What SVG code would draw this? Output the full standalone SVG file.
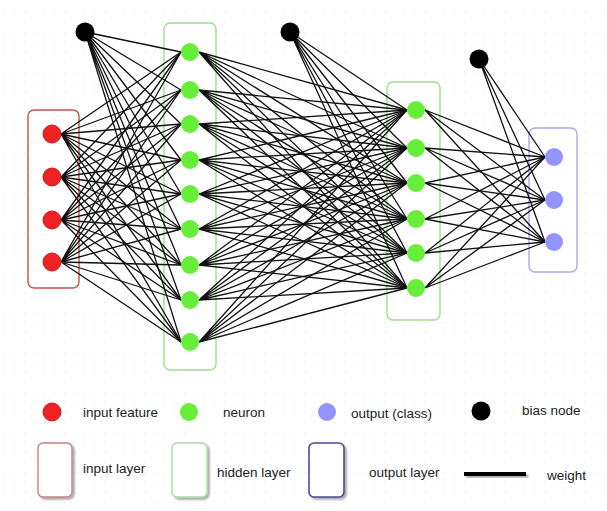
<svg xmlns="http://www.w3.org/2000/svg" width="607" height="511" viewBox="0 0 607 511">
<style>
.lbl{font-family:"Liberation Sans",Arial,sans-serif;font-size:13.5px;fill:#222}
.in{fill:#ee2222;stroke:#cc1a1a;stroke-width:1}
.hid{fill:#66ee3a}
.out{fill:#9494ff}
.bias{fill:#000}
.w{fill:none;stroke:#111;stroke-width:1.3}
.boxIn{fill:#fff;stroke:#c85050;stroke-width:1.4}
.boxHid{fill:#fff;stroke:#9ee08e;stroke-width:1.4}
.boxOut{fill:#fff;stroke:#aaaaea;stroke-width:1.4}
</style>
<defs>
<pattern id="dots" x="0" y="8" width="10" height="10" patternUnits="userSpaceOnUse">
<rect x="4" y="4" width="1" height="1" fill="#e2e2e2"/>
</pattern>
<filter id="sh" x="-30%" y="-30%" width="160%" height="160%">
<feGaussianBlur in="SourceAlpha" stdDeviation="1.2"/>
<feOffset dx="2" dy="2" result="b"/>
<feComponentTransfer><feFuncA type="linear" slope="0.35"/></feComponentTransfer>
<feMerge><feMergeNode/><feMergeNode in="SourceGraphic"/></feMerge>
</filter>
</defs>
<rect width="607" height="511" fill="#fff"/>
<rect y="8" width="607" height="503" fill="url(#dots)"/>

<g id="layer-boxes">
<rect id="input-layer" class="boxIn" x="28" y="110" width="51" height="178" rx="6"/>
<rect id="hidden-layer-1" class="boxHid" x="164" y="23" width="52" height="347" rx="6"/>
<rect id="hidden-layer-2" class="boxHid" x="387" y="82" width="53" height="238" rx="6"/>
<rect id="output-layer" class="boxOut" x="529" y="128" width="48" height="144" rx="6"/>
</g>

<g id="connectors" class="w">
<path d="M85 32L181 52M85 32L181 90M85 32L181 124M85 32L181 160M85 32L181 194M85 32L181 229M85 32L181 265M85 32L181 300M85 32L181 342"/>
<path d="M61 134L181 52M61 134L181 90M61 134L181 124M61 134L181 160M61 134L181 194M61 134L181 229M61 134L181 265M61 134L181 300M61 134L181 342"/>
<path d="M61 177L181 52M61 177L181 90M61 177L181 124M61 177L181 160M61 177L181 194M61 177L181 229M61 177L181 265M61 177L181 300M61 177L181 342"/>
<path d="M61 220L181 52M61 220L181 90M61 220L181 124M61 220L181 160M61 220L181 194M61 220L181 229M61 220L181 265M61 220L181 300M61 220L181 342"/>
<path d="M61 262L181 52M61 262L181 90M61 262L181 124M61 262L181 160M61 262L181 194M61 262L181 229M61 262L181 265M61 262L181 300M61 262L181 342"/>
<path d="M290 32L407 110M290 32L407 148M290 32L407 183M290 32L407 219M290 32L407 253M290 32L407 288"/>
<path d="M199 52L407 110M199 52L407 148M199 52L407 183M199 52L407 219M199 52L407 253M199 52L407 288"/>
<path d="M199 90L407 110M199 90L407 148M199 90L407 183M199 90L407 219M199 90L407 253M199 90L407 288"/>
<path d="M199 124L407 110M199 124L407 148M199 124L407 183M199 124L407 219M199 124L407 253M199 124L407 288"/>
<path d="M199 160L407 110M199 160L407 148M199 160L407 183M199 160L407 219M199 160L407 253M199 160L407 288"/>
<path d="M199 194L407 110M199 194L407 148M199 194L407 183M199 194L407 219M199 194L407 253M199 194L407 288"/>
<path d="M199 229L407 110M199 229L407 148M199 229L407 183M199 229L407 219M199 229L407 253M199 229L407 288"/>
<path d="M199 265L407 110M199 265L407 148M199 265L407 183M199 265L407 219M199 265L407 253M199 265L407 288"/>
<path d="M199 300L407 110M199 300L407 148M199 300L407 183M199 300L407 219M199 300L407 253M199 300L407 288"/>
<path d="M199 342L407 110M199 342L407 148M199 342L407 183M199 342L407 219M199 342L407 253M199 342L407 288"/>
<path d="M479 59L545 157M479 59L545 200M479 59L545 242"/>
<path d="M425 110L545 157M425 110L545 200M425 110L545 242"/>
<path d="M425 148L545 157M425 148L545 200M425 148L545 242"/>
<path d="M425 183L545 157M425 183L545 200M425 183L545 242"/>
<path d="M425 219L545 157M425 219L545 200M425 219L545 242"/>
<path d="M425 253L545 157M425 253L545 200M425 253L545 242"/>
<path d="M425 288L545 157M425 288L545 200M425 288L545 242"/>
</g>

<g id="bias-1"><circle class="bias" cx="85" cy="32" r="9.5"/></g>
<g id="bias-2"><circle class="bias" cx="290" cy="32" r="9.5"/></g>
<g id="bias-3"><circle class="bias" cx="479" cy="59" r="9.5"/></g>

<g id="input-1"><circle class="in" cx="52" cy="134" r="9"/></g>
<g id="input-2"><circle class="in" cx="52" cy="177" r="9"/></g>
<g id="input-3"><circle class="in" cx="52" cy="220" r="9"/></g>
<g id="input-4"><circle class="in" cx="52" cy="262" r="9"/></g>

<g id="h1-1"><circle class="hid" cx="190" cy="52" r="9"/></g>
<g id="h1-2"><circle class="hid" cx="190" cy="90" r="9"/></g>
<g id="h1-3"><circle class="hid" cx="190" cy="124" r="9"/></g>
<g id="h1-4"><circle class="hid" cx="190" cy="160" r="9"/></g>
<g id="h1-5"><circle class="hid" cx="190" cy="194" r="9"/></g>
<g id="h1-6"><circle class="hid" cx="190" cy="229" r="9"/></g>
<g id="h1-7"><circle class="hid" cx="190" cy="265" r="9"/></g>
<g id="h1-8"><circle class="hid" cx="190" cy="300" r="9"/></g>
<g id="h1-9"><circle class="hid" cx="190" cy="342" r="9"/></g>

<g id="h2-1"><circle class="hid" cx="416" cy="110" r="9"/></g>
<g id="h2-2"><circle class="hid" cx="416" cy="148" r="9"/></g>
<g id="h2-3"><circle class="hid" cx="416" cy="183" r="9"/></g>
<g id="h2-4"><circle class="hid" cx="416" cy="219" r="9"/></g>
<g id="h2-5"><circle class="hid" cx="416" cy="253" r="9"/></g>
<g id="h2-6"><circle class="hid" cx="416" cy="288" r="9"/></g>

<g id="out-1"><circle class="out" cx="554" cy="157" r="9"/></g>
<g id="out-2"><circle class="out" cx="554" cy="200" r="9"/></g>
<g id="out-3"><circle class="out" cx="554" cy="242" r="9"/></g>

<g id="legend">
<g id="leg-input-feature"><circle class="in" cx="52" cy="412" r="9"/><text class="lbl" x="83" y="417">input feature</text></g>
<g id="leg-neuron"><circle class="hid" cx="189" cy="412" r="9"/><text class="lbl" x="223" y="417">neuron</text></g>
<g id="leg-output"><circle class="out" cx="327" cy="412" r="9"/><text class="lbl" x="351" y="418">output (class)</text></g>
<g id="leg-bias"><circle class="bias" cx="481" cy="411" r="9.5"/><text class="lbl" x="522" y="415">bias node</text></g>
<g id="leg-input-layer"><rect x="38" y="443" width="34" height="54" rx="5" fill="#fff" stroke="#c88080" stroke-width="1.4" filter="url(#sh)"/><text class="lbl" x="83" y="473">input layer</text></g>
<g id="leg-hidden-layer"><rect x="172" y="443" width="35" height="54" rx="5" fill="#fff" stroke="#a8dca8" stroke-width="1.4" filter="url(#sh)"/><text class="lbl" x="217" y="477">hidden layer</text></g>
<g id="leg-output-layer"><rect x="309" y="443" width="35" height="54" rx="5" fill="#fff" stroke="#4a4a9a" stroke-width="1.6" filter="url(#sh)"/><text class="lbl" x="369" y="477">output layer</text></g>
<g id="leg-weight"><rect x="464" y="472" width="62" height="4" fill="#000" filter="url(#sh)"/><text class="lbl" x="547" y="480">weight</text></g>
</g>
</svg>
